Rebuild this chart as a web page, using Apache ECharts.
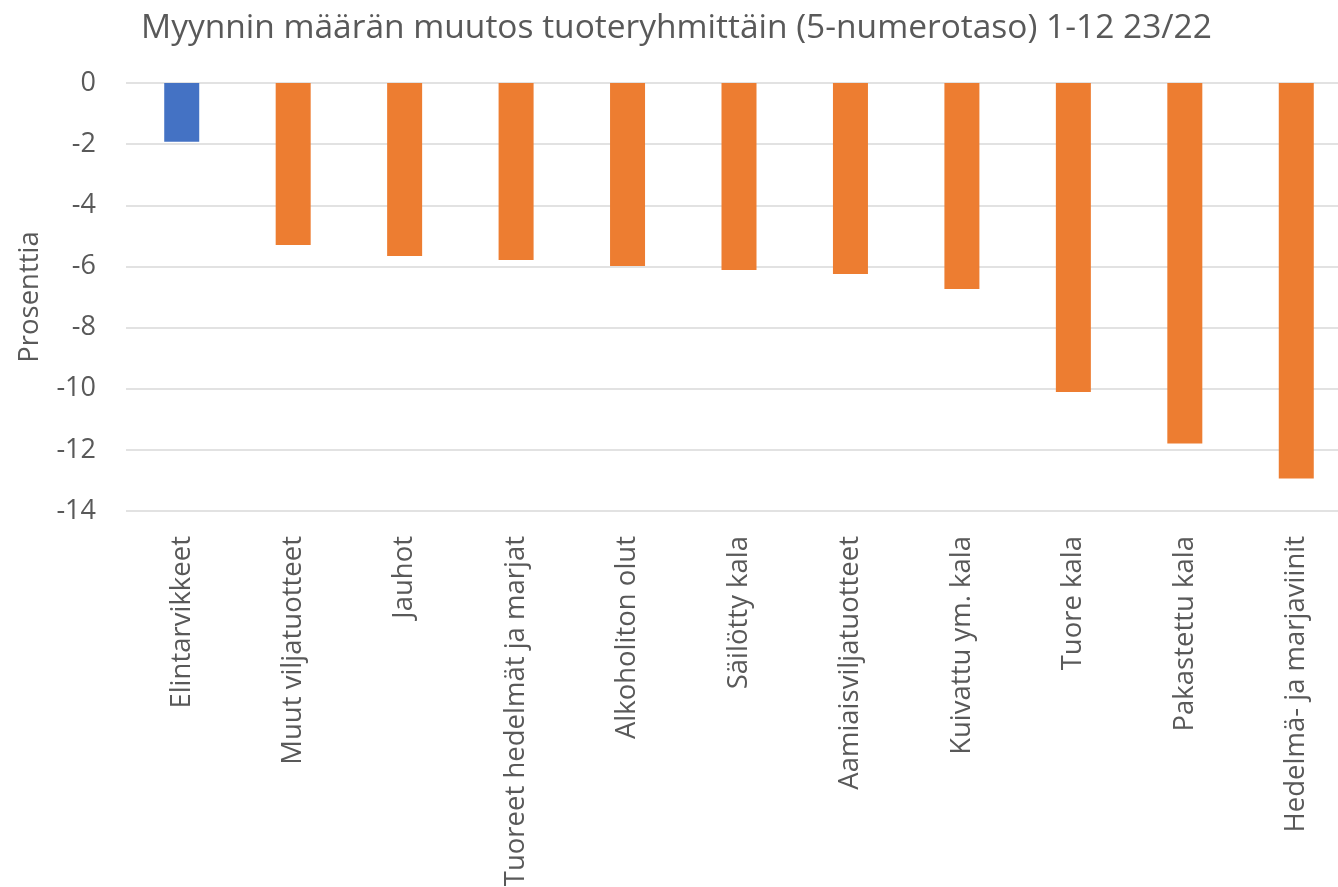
<!DOCTYPE html>
<html>
<head>
<meta charset="utf-8">
<script src="https://cdn.jsdelivr.net/npm/echarts@6/dist/echarts.min.js"></script>
<style>html,body{margin:0;padding:0;background:#fff}#c{width:1338px;height:887px}</style>
</head>
<body>
<div id="c"></div>
<script>
const categories = ["Elintarvikkeet","Muut viljatuotteet","Jauhot","Tuoreet hedelmät ja marjat","Alkoholiton olut","Säilötty kala","Aamiaisviljatuotteet","Kuivattu ym. kala","Tuore kala","Pakastettu kala","Hedelmä- ja marjaviinit"];
const values = [-1.92,-5.30,-5.66,-5.79,-5.99,-6.12,-6.25,-6.74,-10.11,-11.79,-12.94];
const highlightIndex = [0];
const FONT = "'Open Sans', sans-serif";
const TXT = '#595959';
const chart = echarts.init(document.getElementById('c'), null, {renderer:'canvas'});
chart.setOption({
  animation:false,
  title:{text:'Myynnin määrän muutos tuoteryhmittäin (5-numerotaso) 1-12 23/22',left:136,top:6,
    textStyle:{fontFamily:FONT,fontSize:33.5,fontWeight:'normal',color:TXT}},
  grid:{left:126,top:83,right:-14,bottom:376,containLabel:false,outerBoundsMode:'none'},
  xAxis:[{type:'category',data:categories,position:'top',axisLine:{show:false},axisTick:{show:false},axisLabel:{show:false}},
         {type:'category',data:categories,position:'bottom',axisLine:{show:false},axisTick:{show:false},
          axisLabel:{rotate:90,fontFamily:FONT,fontSize:27.5,color:TXT,margin:25,interval:0}}],
  yAxis:{type:'value',min:-14,max:0,interval:2,
    name:'Prosenttia',nameLocation:'middle',nameGap:82,nameRotate:90,
    nameTextStyle:{fontFamily:FONT,fontSize:27.5,color:TXT},
    axisLine:{show:false},axisTick:{show:false},
    axisLabel:{fontFamily:FONT,fontSize:27,color:TXT,margin:30},
    splitLine:{lineStyle:{color:'#D9D9D9',width:1.5}}},
  series:[{type:'bar',barWidth:35,xAxisIndex:0,
    data:values.map((v,i)=>({value:v,itemStyle:{color:highlightIndex.includes(i)?'#4472C4':'#ED7D31'}}))}]
});
</script>
</body>
</html>
